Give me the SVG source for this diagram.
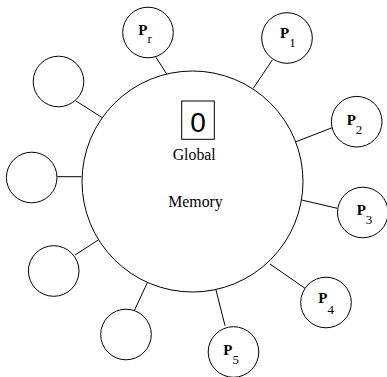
<svg xmlns="http://www.w3.org/2000/svg" width="387" height="377" viewBox="0 0 387 377">
<style>
circle{fill:#fff;stroke:#000;stroke-width:1}
line{stroke:#000;stroke-width:1}
.p{font-family:"Liberation Serif",serif;font-size:15px;font-weight:bold;fill:#000}
.s{font-weight:normal;font-size:13px}
.t{font-family:"Liberation Serif",serif;font-size:15.8px;fill:#000;text-anchor:middle}
.z{font-family:"Liberation Sans",sans-serif;font-size:28px;fill:#000;text-anchor:middle}
</style>
<g id="connectors">
<line x1="156" y1="57.3" x2="166.7" y2="74"/>
<line x1="272.3" y1="60" x2="253.3" y2="88.3"/>
<line x1="332.3" y1="127.7" x2="296" y2="141.7"/>
<line x1="337.3" y1="208.3" x2="301.7" y2="200"/>
<line x1="305" y1="288.3" x2="270" y2="264"/>
<line x1="225" y1="325.7" x2="216" y2="290"/>
<line x1="134.3" y1="310.7" x2="147.3" y2="282.7"/>
<line x1="76" y1="101" x2="103.3" y2="118.3"/>
<line x1="57.3" y1="176.7" x2="81.5" y2="176.7"/>
<line x1="75" y1="255" x2="98.3" y2="240"/>
</g>
<g id="memory">
<circle cx="192.5" cy="181.5" r="110.5"/>
<rect x="181.7" y="101" width="32.6" height="38.3" fill="none" stroke="#000"/>
<text class="z" x="198" y="132">0</text>
<text class="t" x="194.2" y="160">Global</text>
<text class="t" x="195.5" y="207">Memory</text>
</g>
<g id="pr"><circle cx="148" cy="32.5" r="25.3"/><text class="p" x="138.3" y="35">P<tspan class="s" dy="8.3">r</tspan></text></g>
<g id="p1"><circle cx="287" cy="38" r="25.3"/><text class="p" x="280" y="38.3">P<tspan class="s" dy="8.4">1</tspan></text></g>
<g id="p2"><circle cx="356.7" cy="121.7" r="25.3"/><text class="p" x="346.7" y="125">P<tspan class="s" dy="9">2</tspan></text></g>
<g id="p3"><circle cx="362.8" cy="212.5" r="25.3"/><text class="p" x="356.7" y="215">P<tspan class="s" dy="9">3</tspan></text></g>
<g id="p4"><circle cx="326" cy="302.5" r="25.3"/><text class="p" x="318.3" y="303.3">P<tspan class="s" dy="11">4</tspan></text></g>
<g id="p5"><circle cx="233.5" cy="352" r="25.3"/><text class="p" x="223.3" y="355">P<tspan class="s" dy="9.3">5</tspan></text></g>
<g id="n6"><circle cx="126" cy="334.5" r="25.3"/></g>
<g id="n7"><circle cx="53.7" cy="271" r="25.3"/></g>
<g id="n8"><circle cx="31.7" cy="177.5" r="25.3"/></g>
<g id="n9"><circle cx="58.5" cy="81.5" r="25.3"/></g>
</svg>
